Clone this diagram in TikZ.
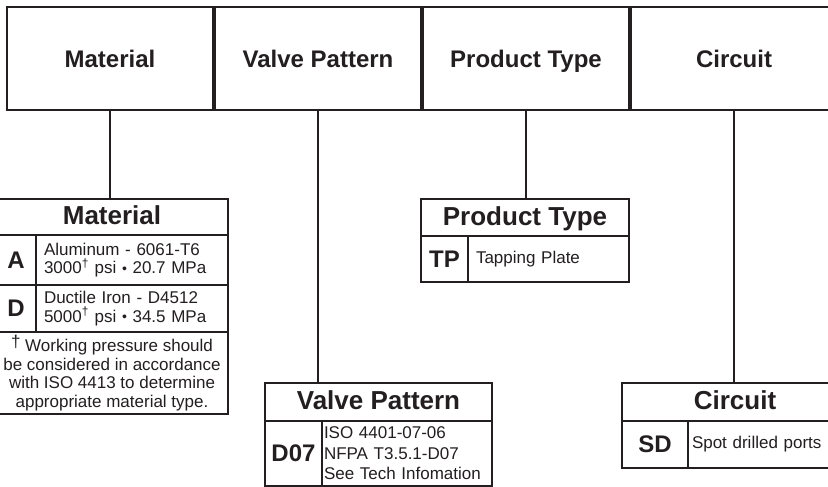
\documentclass[tikz,border=0pt]{standalone}
\usepackage{fontspec}
\setmainfont{Liberation Sans}
\definecolor{ink}{RGB}{35,31,32}
\newcommand{\dg}{\textsuperscript{†}}
\newcommand{\bul}{\raisebox{0.3pt}{\fontsize{14}{14}\selectfont •}}
\begin{document}
\begin{tikzpicture}[x=1pt,y=-1pt,
  every node/.style={outer sep=0pt, text=ink},
  topbox/.style={draw=ink, line width=2pt, anchor=north west, inner sep=0pt,
    minimum width=206pt, minimum height=103pt, text height=23pt, text depth=5pt,
    font=\fontsize{24}{26}\selectfont\bfseries},
  cell/.style={draw=ink, line width=2pt, anchor=north west, inner sep=0pt},
  ttl/.style={cell, text height=21pt, text depth=5.5pt, font=\fontsize{26}{28}\selectfont\bfseries},
  code/.style={cell, font=\fontsize{24}{26}\selectfont\bfseries},
  desc/.style={cell, font=\fontsize{17}{18.5}\selectfont, align=left, inner xsep=8pt},
  conn/.style={draw=ink, line width=1.8pt}]
\useasboundingbox[fill=white] (0,0) rectangle (828,487);
% top row
\node[topbox] (t1) at (7,7) {Material};
\node[topbox] (t2) at (215,7) {Valve Pattern};
\node[topbox] (t3) at (423,7) {Product Type};
\node[topbox] (t4) at (631,7) {Circuit};
% Material table
\node[ttl, minimum width=232pt, minimum height=36pt] (mt) at (-4,199) {Material};
\node[code, minimum width=40pt, minimum height=50pt] (ma) at (-4,235) {A};
\node[desc, text width=176pt, minimum height=50pt] (mad) at (36,235) {Aluminum - 6061-T6\\3000\dg{} psi \bul{} 20.7 MPa};
\node[code, minimum width=40pt, minimum height=47pt] (md) at (-4,285) {D};
\node[desc, text width=176pt, minimum height=47pt] (mdd) at (36,285) {Ductile Iron - D4512\\5000\dg{} psi \bul{} 34.5 MPa};
\node[cell, minimum width=232pt, minimum height=82pt, align=center, font=\fontsize{17}{18.5}\selectfont] (mf) at (-4,332)
  {\raisebox{4pt}{†} Working pressure should\\be considered in accordance\\with ISO 4413 to determine\\appropriate material type.};
% Product Type table
\node[ttl, minimum width=208pt, minimum height=37pt] (pt) at (421,199) {Product Type};
\node[code, minimum width=47pt, minimum height=46pt] (pc) at (421,236) {TP};
\node[desc, text width=145pt, minimum height=46pt] (pd) at (468,236) {Tapping Plate};
% Valve Pattern table
\node[ttl, minimum width=227pt, minimum height=38pt] (vt) at (265,383) {Valve Pattern};
\node[code, minimum width=57pt, minimum height=65pt] (vc) at (265,421) {D07};
\node[desc, text width=166pt, minimum height=65pt, inner xsep=2pt, font=\fontsize{17}{20.5}\selectfont] (vd) at (322,421)
  {ISO 4401-07-06\\NFPA T3.5.1-D07\\See Tech Infomation};
% Circuit table
\node[ttl, minimum width=226pt, minimum height=38pt] (ct) at (622,383) {Circuit};
\node[code, minimum width=66pt, minimum height=47pt] (cc) at (622,421) {SD};
\node[desc, text width=152pt, minimum height=47pt, inner xsep=4pt] (cd) at (688,421) {Spot drilled ports};
% connectors
\draw[conn] (t1.south) -- (t1.south |- mt.north);
\draw[conn] (t2.south) -- (t2.south |- vt.north);
\draw[conn] (t3.south) -- (t3.south |- pt.north);
\draw[conn] (t4.south) -- (t4.south |- ct.north);
\end{tikzpicture}
\end{document}
